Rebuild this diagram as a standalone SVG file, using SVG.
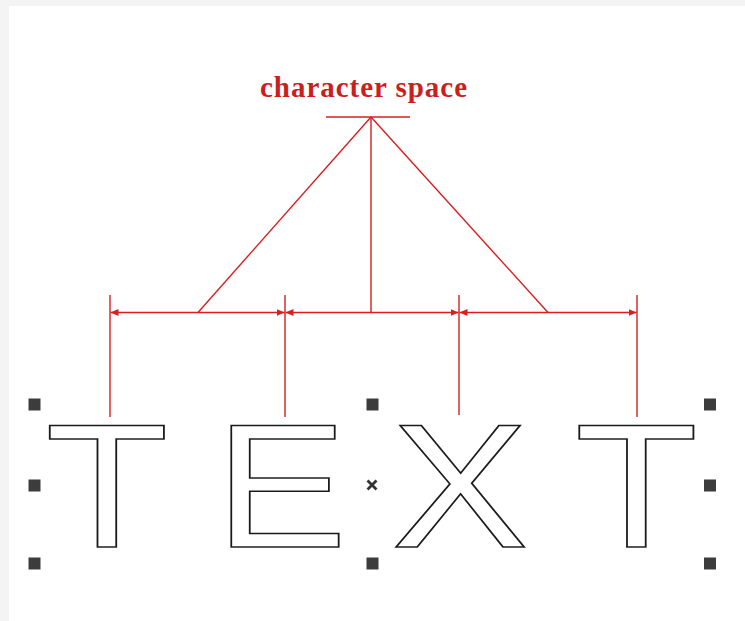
<svg xmlns="http://www.w3.org/2000/svg" width="745" height="621" viewBox="0 0 745 621">
  <defs>
    <marker id="arr" viewBox="0 0 8 8" refX="8" refY="4" markerWidth="8" markerHeight="8" markerUnits="userSpaceOnUse" orient="auto-start-reverse">
      <path d="M0,0.6 L8,4 L0,7.4 Z" fill="#d81e1e"/>
    </marker>
    <style>
      .red { stroke: #d81e1e; stroke-width: 1.4; fill: none; }
      .dim { marker-start: url(#arr); marker-end: url(#arr); }
      .glyph { font-family: "Liberation Sans", Arial, sans-serif; font-size: 177px; fill: #ffffff; stroke: #1a1a1a; stroke-width: 1.6; text-anchor: middle; }
      .handle { fill: #3c3c3c; }
      .label { font-family: "Liberation Serif", "Times New Roman", serif; font-weight: bold; font-size: 29px; fill: #c81f1f; }
    </style>
  </defs>
  <rect x="0" y="0" width="745" height="621" fill="#f4f4f4"/>
  <rect x="9" y="6" width="736" height="615" fill="#ffffff"/>

  <g id="connectors">
    <line class="red" x1="326" y1="117" x2="410" y2="117"/>
    <line class="red" x1="371" y1="117" x2="198" y2="312.5"/>
    <line class="red" x1="371" y1="117" x2="548" y2="312.5"/>
    <line class="red" x1="371" y1="117" x2="371" y2="312.5"/>
    <line class="red" x1="110" y1="295" x2="110" y2="417"/>
    <line class="red" x1="285" y1="295" x2="285" y2="417"/>
    <line class="red" x1="459" y1="295" x2="459" y2="415"/>
    <line class="red" x1="637" y1="295" x2="637" y2="417"/>
    <line class="red dim" x1="110.5" y1="312.5" x2="284.5" y2="312.5"/>
    <line class="red dim" x1="285.5" y1="312.5" x2="458.5" y2="312.5"/>
    <line class="red dim" x1="459.5" y1="312.5" x2="636.5" y2="312.5"/>
  </g>

  <g id="label">
    <text class="label" x="260" y="97" textLength="207" lengthAdjust="spacing">character space</text>
  </g>

  <g id="letter-T1">
    <text class="glyph" transform="translate(107,547.3) scale(1.14,1)">T</text>
  </g>
  <g id="letter-E">
    <text class="glyph" transform="translate(281,547.3) scale(1.12,1)">E</text>
  </g>
  <g id="letter-X">
    <text class="glyph" transform="translate(460,547.3) scale(1.16,1)">X</text>
  </g>
  <g id="letter-T2">
    <text class="glyph" transform="translate(636.3,547.3) scale(1.14,1)">T</text>
  </g>

  <g id="handles">
    <rect class="handle" x="28.5" y="398.5" width="12" height="12"/>
    <rect class="handle" x="28.5" y="479.5" width="12" height="12"/>
    <rect class="handle" x="28.5" y="557.5" width="12" height="12"/>
    <rect class="handle" x="366.5" y="398.5" width="12" height="12"/>
    <rect class="handle" x="366.5" y="557.5" width="12" height="12"/>
    <rect class="handle" x="704" y="398.5" width="12" height="12"/>
    <rect class="handle" x="704" y="479.5" width="12" height="12"/>
    <rect class="handle" x="704" y="557.5" width="12" height="12"/>
    <path d="M367.5,480.5 L376.5,489.5 M376.5,480.5 L367.5,489.5" stroke="#333333" stroke-width="2.8" fill="none"/>
  </g>
</svg>
